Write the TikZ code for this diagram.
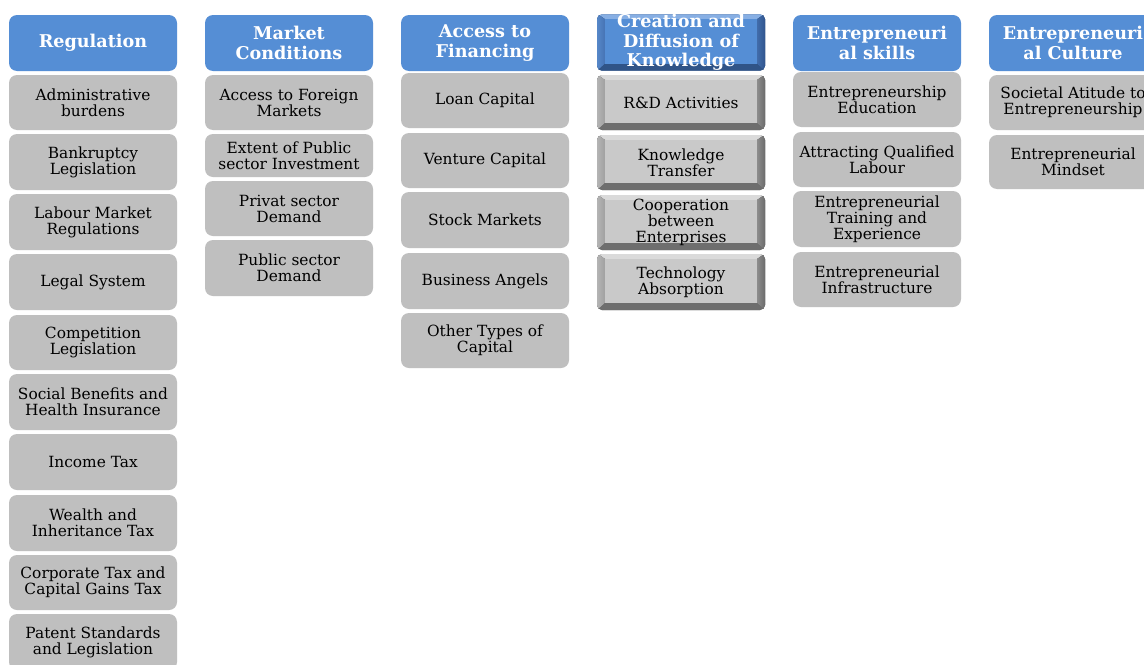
\documentclass[tikz,border=0pt]{standalone}
\usepackage{fontspec}
\setmainfont{DejaVu Serif}
\usetikzlibrary{calc}
\definecolor{hdrblue}{RGB}{85,142,213}
\definecolor{cellgray}{RGB}{191,191,191}
\definecolor{facegray}{RGB}{201,201,201}
% facet colours of the bevelled buttons
\definecolor{gTop}{RGB}{218,218,218}
\definecolor{gLeftA}{RGB}{185,185,185}
\definecolor{gLeftB}{RGB}{160,160,160}
\definecolor{gRightA}{RGB}{140,140,140}
\definecolor{gRightB}{RGB}{100,100,100}
\definecolor{gBottom}{RGB}{110,110,110}
\definecolor{bTop}{RGB}{135,175,228}
\definecolor{bLeftA}{RGB}{90,140,205}
\definecolor{bLeftB}{RGB}{70,115,180}
\definecolor{bRightA}{RGB}{65,108,170}
\definecolor{bRightB}{RGB}{45,80,135}
\definecolor{bBottom}{RGB}{48,84,135}
\tikzset{
  x=0.5pt, y=-0.5pt,
  hdr/.style={fill=hdrblue, rounded corners=4pt, minimum width=84pt, minimum height=28pt,
    inner sep=0pt, align=center, text=white,
    font=\bfseries\fontsize{8.8pt}{9.8pt}\selectfont},
  cell/.style={fill=cellgray, rounded corners=4pt, minimum width=84pt, minimum height=27.5pt,
    inner sep=0pt, align=center, text=black,
    font=\fontsize{7.7pt}{8pt}\selectfont},
  % bevelled button: four edge facets around a flat face
  bevel/.style n args={7}{
    fill=#6, rounded corners=2.5pt, inner sep=0pt, minimum width=84pt, align=center,
    path picture={
      \coordinate (sw) at (path picture bounding box.south west);
      \coordinate (ne) at (path picture bounding box.north east);
      \coordinate (nw) at (path picture bounding box.north west);
      \coordinate (se) at (path picture bounding box.south east);
      \coordinate (isw) at ($(sw)+(4pt,3.5pt)$);
      \coordinate (ine) at ($(ne)+(-4pt,-2.5pt)$);
      \coordinate (inw) at ($(nw)+(4pt,-2.5pt)$);
      \coordinate (ise) at ($(se)+(-4pt,3.5pt)$);
      \begin{scope}[sharp corners]
      \fill[#1] ($(nw)+(-1pt,1pt)$) -- ($(ne)+(1pt,1pt)$) -- (ine) -- (inw) -- cycle;
      \fill[left color=#2, right color=#3] ($(nw)+(-1pt,1pt)$) -- (inw) -- (isw) -- ($(sw)+(-1pt,-1pt)$) -- cycle;
      \fill[left color=#4, right color=#5] ($(ne)+(1pt,1pt)$) -- (ine) -- (ise) -- ($(se)+(1pt,-1pt)$) -- cycle;
      \fill[#6] ($(sw)+(-1pt,-1pt)$) -- (isw) -- (ise) -- ($(se)+(1pt,-1pt)$) -- cycle;
      \fill[#7] (isw) rectangle (ine);
      \end{scope}
    }},
  kbox/.style={bevel={gTop}{gLeftA}{gLeftB}{gRightA}{gRightB}{gBottom}{facegray},
    minimum height=27.5pt, text=black, font=\fontsize{7.7pt}{8pt}\selectfont},
  khdr/.style={bevel={bTop}{bLeftA}{bLeftB}{bRightA}{bRightB}{bBottom}{hdrblue},
    minimum height=27.5pt, text=white, font=\bfseries\fontsize{8.8pt}{9.8pt}\selectfont},
}
\begin{document}
\begin{tikzpicture}
\clip (0,0) rectangle (1144,664);
\fill[white] (0,0) rectangle (1144,664);

% Regulation
\node[hdr] (h1) at (93,43) {Regulation};
\node[cell] (r1) at (93,102.5) {Administrative\\burdens};
\node[cell, minimum height=28pt] (r2) at (93,162) {Bankruptcy\\Legislation};
\node[cell, minimum height=28pt] (r3) at (93,222) {Labour Market\\Regulations};
\node[cell, minimum height=28pt] (r4) at (93,282) {Legal System};
\node[cell] (r5) at (93,342.5) {Competition\\Legislation};
\node[cell, minimum height=28pt] (r6) at (93,402) {Social Benefits and\\Health Insurance};
\node[cell, minimum height=28pt] (r7) at (93,462) {Income Tax};
\node[cell, minimum height=28pt] (r8) at (93,523) {Wealth and\\Inheritance Tax};
\node[cell] (r9) at (93,582.5) {Corporate Tax and\\Capital Gains Tax};
\node[cell, minimum height=28pt] (r10) at (93,642) {Patent Standards\\and Legislation};

% Market Conditions
\node[hdr] (h2) at (289,43) {Market\\Conditions};
\node[cell] (m1) at (289,102.5) {Access to Foreign\\Markets};
\node[cell, minimum height=21.5pt] (m2) at (289,155.5) {Extent of Public\\sector Investment};
\node[cell] (m3) at (289,208.5) {Privat sector\\Demand};
\node[cell, minimum height=28pt] (m4) at (289,268) {Public sector\\Demand};

% Access to Financing
\node[hdr] (h3) at (485,43) {Access to\\Financing};
\node[cell] (f1) at (485,100.5) {Loan Capital};
\node[cell] (f2) at (485,160.5) {Venture Capital};
\node[cell, minimum height=28pt] (f3) at (485,220) {Stock Markets};
\node[cell, minimum height=28pt] (f4) at (485,281) {Business Angels};
\node[cell] (f5) at (485,340.5) {Other Types of\\Capital};

% Creation and Diffusion of Knowledge
\node[khdr] (h4) at (681,42.5) {Creation and\\Diffusion of\\Knowledge};
\node[kbox] (k1) at (681,102.5) {R\&D Activities};
\node[kbox] (k2) at (681,162.5) {Knowledge\\Transfer};
\node[kbox] (k3) at (681,222.5) {Cooperation\\between\\Enterprises};
\node[kbox, minimum height=28pt] (k4) at (681,282) {Technology\\Absorption};

% Entrepreneurial skills
\node[hdr] (h5) at (877,43) {Entrepreneuri\\al skills};
\node[cell] (s1) at (877,99.5) {Entrepreneurship\\Education};
\node[cell] (s2) at (877,159.5) {Attracting Qualified\\Labour};
\node[cell, minimum height=28pt] (s3) at (877,219) {Entrepreneurial\\Training and\\Experience};
\node[cell] (s4) at (877,279.5) {Entrepreneurial\\Infrastructure};

% Entrepreneurial Culture
\node[hdr] (h6) at (1073,43) {Entrepreneuri\\al Culture};
\node[cell] (c1) at (1073,102.5) {Societal Atitude to\\Entrepreneurship};
\node[cell, minimum height=27pt] (c2) at (1073,162) {Entrepreneurial\\Mindset};
\end{tikzpicture}
\end{document}
